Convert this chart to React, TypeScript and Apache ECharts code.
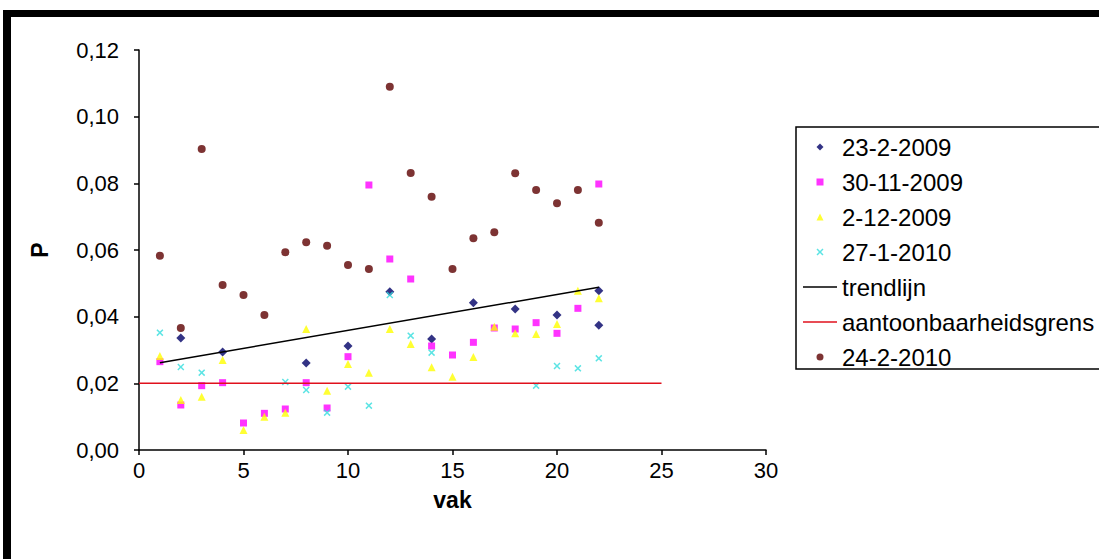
import React, { useEffect, useRef } from "react";
import * as echarts from "echarts";

const vak = [1, 2, 3, 4, 5, 6, 7, 8, 9, 10, 11, 12, 13, 14, 15, 16, 17, 18, 19, 20, 21, 22];

const s2009_02_23_x = [2, 4, 8, 10, 12, 14, 16, 18, 20, 22, 22];
const s2009_02_23 = [0.0336, 0.0294, 0.0261, 0.0312, 0.0475, 0.0333, 0.0442, 0.0423, 0.0405, 0.0478, 0.0374];

const s2009_11_30 = [0.0265, 0.0135, 0.0193, 0.0202, 0.0081, 0.011, 0.0123, 0.0202, 0.0126, 0.028, 0.0795,
  0.0573, 0.0513, 0.0312, 0.0285, 0.0323, 0.0366, 0.0363, 0.0382, 0.035, 0.0425, 0.0798];

const s2009_12_02 = [0.0282, 0.015, 0.016, 0.027, 0.006, 0.01, 0.0112, 0.0363, 0.0178, 0.0258, 0.0232,
  0.0363, 0.0318, 0.0248, 0.022, 0.0279, 0.037, 0.035, 0.0348, 0.0378, 0.0478, 0.0455];

const s2010_01_27_x = [1, 2, 3, 7, 8, 9, 10, 11, 12, 13, 14, 19, 20, 21, 22];
const s2010_01_27 = [0.0352, 0.0249, 0.0232, 0.0204, 0.018, 0.0112, 0.019, 0.0133, 0.0465, 0.0343, 0.0292,
  0.0193, 0.0252, 0.0245, 0.0275];

const s2010_02_24 = [0.0583, 0.0366, 0.0903, 0.0495, 0.0465, 0.0405, 0.0593, 0.0623, 0.0613, 0.0555, 0.0543,
  0.109, 0.0831, 0.076, 0.0543, 0.0635, 0.0653, 0.083, 0.078, 0.074, 0.078, 0.0682];

const trendX = [1, 22];
const trendY = [0.0262, 0.0488];
const limitX = [0, 25];
const limitY = [0.02, 0.02];

const xTicks = [0, 5, 10, 15, 20, 25, 30];
const yTicks = [0, 0.02, 0.04, 0.06, 0.08, 0.1, 0.12];

const names = ["23-2-2009", "30-11-2009", "2-12-2009", "27-1-2010", "trendlijn", "aantoonbaarheidsgrens", "24-2-2010"];

const zip = (xs: number[], ys: number[]) => xs.map((x, i) => [x, ys[i]]);

const DIAMOND = "path://M5,0L10,5L5,10L0,5Z";
const SQUARE = "path://M0,0L10,0L10,10L0,10Z";
const TRIANGLE = "path://M5,0L10,10L0,10Z";
const CROSS = "path://M0,1.5L1.5,0L5,3.5L8.5,0L10,1.5L6.5,5L10,8.5L8.5,10L5,6.5L1.5,10L0,8.5L3.5,5Z";
const CIRCLE = "path://M5,0A5,5,0,1,1,5,10A5,5,0,1,1,5,0Z";
const LINE_ICON = "path://M0,0L34,0L34,1.5L0,1.5Z";

const FONT = "'Liberation Sans', Arial, sans-serif";

export default function App() {
  const ref = useRef<HTMLDivElement>(null);

  useEffect(() => {
    if (!ref.current) return;
    const chart = echarts.init(ref.current, undefined, { renderer: "svg" });
    const option = {
      animation: false,
      backgroundColor: "#ffffff",
      textStyle: { fontFamily: FONT, color: "#000" },
      grid: { left: 139, top: 50, width: 627, height: 400, containLabel: false },
      xAxis: {
        type: "value",
        min: xTicks[0],
        max: xTicks[xTicks.length - 1],
        interval: 5,
        name: "vak",
        nameLocation: "middle",
        nameGap: 38,
        nameTextStyle: { fontFamily: FONT, fontSize: 23, fontWeight: "bold", color: "#000" },
        axisLine: { show: true, onZero: false, lineStyle: { color: "#000", width: 1.5 } },
        axisTick: { show: true, inside: false, length: 5, lineStyle: { color: "#000", width: 1.5 } },
        axisLabel: { fontFamily: FONT, fontSize: 22, color: "#000", margin: 9 },
        splitLine: { show: false },
      },
      yAxis: {
        type: "value",
        min: yTicks[0],
        max: yTicks[yTicks.length - 1],
        interval: 0.02,
        name: "P",
        nameLocation: "middle",
        nameRotate: 90,
        nameGap: 88,
        nameTextStyle: { fontFamily: FONT, fontSize: 23, fontWeight: "bold", color: "#000" },
        axisLine: { show: true, lineStyle: { color: "#000", width: 1.5 } },
        axisTick: { show: true, inside: false, length: 5, lineStyle: { color: "#000", width: 1.5 } },
        axisLabel: {
          fontFamily: FONT,
          fontSize: 22,
          color: "#000",
          margin: 20,
          formatter: (v: number) => v.toFixed(2).replace(".", ","),
        },
        splitLine: { show: false },
      },
      legend: {
        orient: "vertical",
        left: 803,
        top: 135,
        padding: 0,
        itemWidth: 34,
        itemHeight: 7,
        itemGap: 11,
        symbolKeepAspect: true,
        textStyle: { fontFamily: FONT, fontSize: 24, color: "#000", lineHeight: 24 },
        data: [
          { name: names[0], icon: DIAMOND },
          { name: names[1], icon: SQUARE },
          { name: names[2], icon: TRIANGLE },
          { name: names[3], icon: CROSS },
          { name: names[4], icon: LINE_ICON },
          { name: names[5], icon: LINE_ICON },
          { name: names[6], icon: CIRCLE },
        ],
      },
      graphic: [
        { type: "rect", shape: { x: 3, y: 10, width: 1096, height: 7 }, style: { fill: "#000" }, silent: true },
        { type: "rect", shape: { x: 3, y: 10, width: 8, height: 549 }, style: { fill: "#000" }, silent: true },
        {
          type: "rect",
          shape: { x: 796, y: 127, width: 400, height: 242 },
          style: { fill: "none", stroke: "#000", lineWidth: 1.5 },
          silent: true,
          z: -1,
        },
      ],
      series: [
        {
          name: names[0],
          type: "scatter",
          data: zip(s2009_02_23_x, s2009_02_23),
          symbol: DIAMOND,
          symbolSize: 9,
          itemStyle: { color: "#000066" },
        },
        {
          name: names[1],
          type: "scatter",
          data: zip(vak, s2009_11_30),
          symbol: SQUARE,
          symbolSize: 7,
          itemStyle: { color: "#ff00ff" },
        },
        {
          name: names[2],
          type: "scatter",
          data: zip(vak, s2009_12_02),
          symbol: TRIANGLE,
          symbolSize: 8,
          itemStyle: { color: "#ffff00" },
        },
        {
          name: names[3],
          type: "scatter",
          data: zip(s2010_01_27_x, s2010_01_27),
          symbol: CROSS,
          symbolSize: 7,
          itemStyle: { color: "#33dddd" },
        },
        {
          name: names[4],
          type: "line",
          data: zip(trendX, trendY),
          symbol: "none",
          lineStyle: { color: "#000", width: 1.5 },
          itemStyle: { color: "#000" },
        },
        {
          name: names[5],
          type: "line",
          data: zip(limitX, limitY),
          symbol: "none",
          lineStyle: { color: "#e0101c", width: 1.5 },
          itemStyle: { color: "#e0101c" },
        },
        {
          name: names[6],
          type: "scatter",
          data: zip(vak, s2010_02_24),
          symbol: CIRCLE,
          symbolSize: 8,
          itemStyle: { color: "#5c0000" },
        },
      ],
    };
    chart.setOption(option);
    return () => chart.dispose();
  }, []);

  return (
    <div
      ref={ref}
      style={{ position: "fixed", left: 0, top: 0, width: 1099, height: 559, background: "#fff" }}
    />
  );
}
